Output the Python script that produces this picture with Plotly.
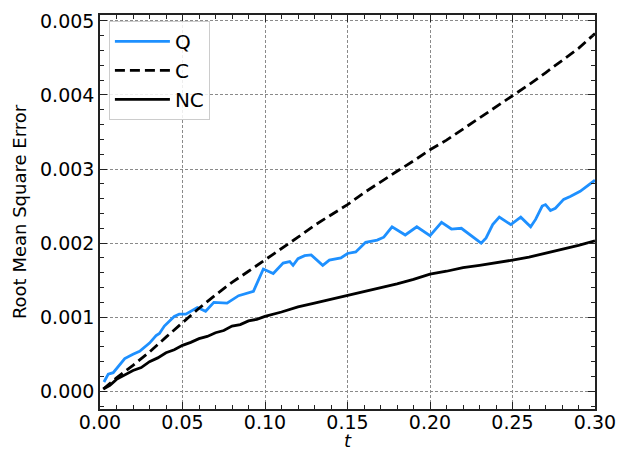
import plotly.graph_objects as go

# ---- data ----
t_q = [0.0024, 0.005, 0.008, 0.015, 0.020, 0.024, 0.030, 0.034, 0.036, 0.039, 0.045, 0.048,
       0.052, 0.059, 0.061, 0.064, 0.069, 0.073, 0.077, 0.084, 0.093, 0.099, 0.105, 0.111,
       0.115, 0.117, 0.120, 0.124, 0.128, 0.135, 0.139, 0.146, 0.150, 0.155, 0.161, 0.168,
       0.172, 0.177, 0.185, 0.192, 0.200, 0.207, 0.213, 0.219, 0.225, 0.231, 0.234, 0.238,
       0.242, 0.249, 0.255, 0.261, 0.264, 0.268, 0.270, 0.273, 0.276, 0.281, 0.285, 0.291, 0.300]
q_vals = [0.000125, 0.00023, 0.00025, 0.00044, 0.00050, 0.00054, 0.00065, 0.00075, 0.00078,
          0.00088, 0.00101, 0.00104, 0.00104, 0.00113, 0.00111, 0.00108, 0.00120, 0.00120,
          0.00119, 0.00129, 0.00135, 0.00165, 0.00159, 0.00173, 0.00175, 0.00170, 0.00179,
          0.00183, 0.00184, 0.00170, 0.00177, 0.00180, 0.00186, 0.00188, 0.00201, 0.00204,
          0.00208, 0.00222, 0.00211, 0.00222, 0.00210, 0.00228, 0.00219, 0.00220, 0.00210,
          0.00200, 0.00207, 0.00225, 0.00235, 0.00225, 0.00235, 0.00222, 0.00232, 0.00250,
          0.00252, 0.00244, 0.00247, 0.00259, 0.00263, 0.00270, 0.00285]

t_c = [0.002, 0.01, 0.02, 0.03, 0.04, 0.05, 0.06, 0.07, 0.08, 0.09, 0.10, 0.11, 0.12, 0.13,
       0.14, 0.15, 0.16, 0.17, 0.18, 0.19, 0.20, 0.21, 0.22, 0.23, 0.24, 0.25, 0.26, 0.27,
       0.28, 0.29, 0.30]
c_vals = [0.00003, 0.00018, 0.00035, 0.00053, 0.00073, 0.00093, 0.00112, 0.00130, 0.00147,
          0.00162, 0.00177, 0.00193, 0.00208, 0.00224, 0.00238, 0.00252, 0.00268, 0.00283,
          0.00297, 0.00311, 0.00326, 0.00339, 0.00354, 0.00368, 0.00383, 0.00399, 0.00414,
          0.00430, 0.00446, 0.00463, 0.00483]

t_nc = [0.002, 0.006, 0.010, 0.014, 0.020, 0.025, 0.030, 0.035, 0.040, 0.045, 0.050, 0.055,
        0.060, 0.065, 0.070, 0.075, 0.080, 0.085, 0.090, 0.095, 0.100, 0.110, 0.120, 0.130,
        0.140, 0.150, 0.160, 0.170, 0.180, 0.190, 0.200, 0.210, 0.220, 0.230, 0.240, 0.250,
        0.260, 0.270, 0.280, 0.290, 0.300]
nc_vals = [0.00003, 0.00008, 0.00016, 0.00021, 0.00028, 0.00032, 0.00040, 0.00045, 0.00052,
           0.00056, 0.00062, 0.00066, 0.00071, 0.00074, 0.00079, 0.00082, 0.00088, 0.00090,
           0.00095, 0.00097, 0.00101, 0.00107, 0.00114, 0.00119, 0.00124, 0.00130, 0.00135,
           0.00139, 0.00145, 0.00151, 0.00158, 0.00162, 0.00167, 0.00170, 0.00173, 0.00177,
           0.00181, 0.00186, 0.00191, 0.00197, 0.00203]

x_ticks = [0.00, 0.05, 0.10, 0.15, 0.20, 0.25, 0.30]
y_ticks = [0.000, 0.001, 0.002, 0.003, 0.004, 0.005]
x_title = "t"
y_title = "Root Mean Square Error"

FONT = "DejaVu Sans"
AX = "#222222"

fig = go.Figure()
fig.add_trace(go.Scatter(x=t_q, y=q_vals, mode="lines", name="Q", legendgroup="q",
                         line=dict(color="#1E90FF", width=2.8)))
fig.add_trace(go.Scatter(x=t_c, y=c_vals, mode="lines", name="C", legendgroup="c",
                         line=dict(color="black", width=2.8, dash="10px,5px")))
fig.add_trace(go.Scatter(x=t_nc, y=nc_vals, mode="lines", name="NC", legendgroup="nc",
                         line=dict(color="black", width=2.8)))

common = dict(
    showline=True, linecolor=AX, linewidth=1.5, mirror="ticks",
    ticks="inside", ticklen=7, tickwidth=1.2, tickcolor=AX,
    showgrid=True, gridcolor="#8a8a8a", gridwidth=0.8, griddash="3px,2px",
    zeroline=False, automargin=False,
    tickfont=dict(family=FONT, size=19, color="black"),
)

fig.update_xaxes(
    range=[0, 0.30], tickvals=x_ticks, tickformat=".2f", ticklabelstandoff=-5,
    minor=dict(dtick=0.01, tick0=0, ticks="inside", ticklen=4, tickwidth=1, tickcolor=AX, showgrid=False),
    **common,
)
fig.update_yaxes(
    range=[-0.00024, 0.00508], tickvals=y_ticks, tickformat=".3f",
    minor=dict(dtick=0.0002, tick0=0, ticks="inside", ticklen=4, tickwidth=1, tickcolor=AX, showgrid=False),
    title=dict(text=y_title, font=dict(family=FONT, size=18, color="black"), standoff=9),
    **common,
)

fig.add_annotation(text="<i>" + x_title + "</i>", xref="paper", yref="paper",
                   x=0.5, y=-0.108, xanchor="center", yanchor="bottom", showarrow=False,
                   borderpad=0, font=dict(family=FONT, size=18, color="black"))

fig.update_layout(
    width=618, height=451,
    margin=dict(l=100, r=23, t=15, b=42),
    plot_bgcolor="white", paper_bgcolor="white",
    font=dict(family=FONT, size=19, color="black"),
    showlegend=True,
    legend=dict(x=0.018, y=0.985, xanchor="left", yanchor="top",
                bgcolor="rgba(255,255,255,0.85)", bordercolor="#cccccc", borderwidth=1,
                font=dict(family=FONT, size=20, color="black"),
                itemwidth=55, tracegroupgap=0),
)

fig.write_html("out.html")
